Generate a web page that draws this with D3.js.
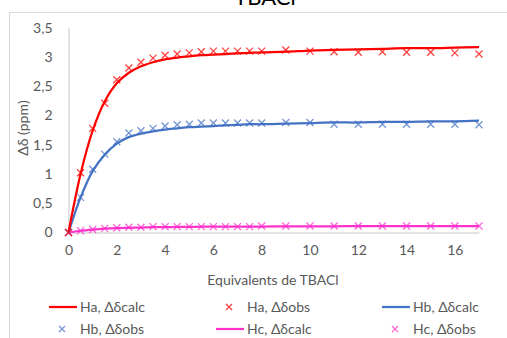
<!DOCTYPE html>
<html><head><meta charset="utf-8">
<script src="https://cdn.jsdelivr.net/npm/d3@7"></script>
<style>body{margin:0;background:#fff;overflow:hidden}svg{display:block}text{font-family:Lato,"Open Sans",sans-serif}</style>
</head><body>
<script>
const xVals = [0,0.5,1,1.5,2,2.5,3,3.5,4,4.5,5,5.5,6,6.5,7,7.5,8,9,10,11,12,13,14,15,16,17];
const haObs = [0,1.02,1.78,2.21,2.61,2.81,2.91,2.98,3.03,3.05,3.07,3.09,3.10,3.10,3.10,3.10,3.10,3.12,3.10,3.09,3.08,3.09,3.08,3.08,3.07,3.05];
const haCalc = [0,1.0,1.74,2.24,2.55,2.73,2.84,2.91,2.96,2.99,3.01,3.03,3.04,3.05,3.06,3.07,3.08,3.09,3.11,3.12,3.13,3.14,3.15,3.15,3.16,3.17];
const hbObs = [0,0.60,1.08,1.34,1.55,1.70,1.74,1.78,1.82,1.84,1.85,1.87,1.87,1.87,1.87,1.87,1.87,1.88,1.88,1.85,1.85,1.85,1.85,1.85,1.85,1.84];
const hbCalc = [0,0.60,1.05,1.33,1.52,1.63,1.69,1.73,1.76,1.78,1.80,1.81,1.82,1.83,1.84,1.85,1.85,1.86,1.87,1.88,1.88,1.89,1.89,1.90,1.90,1.91];
const hcObs = [0,0.03,0.05,0.07,0.08,0.09,0.09,0.10,0.10,0.10,0.10,0.10,0.10,0.10,0.10,0.10,0.11,0.11,0.11,0.11,0.11,0.11,0.11,0.11,0.11,0.11];
const hcCalc = [0,0.03,0.05,0.065,0.075,0.08,0.085,0.09,0.09,0.095,0.095,0.1,0.1,0.1,0.1,0.1,0.1,0.105,0.105,0.105,0.11,0.11,0.11,0.11,0.11,0.11];
const xTicks = [0,2,4,6,8,10,12,14,16];
const yTicks = [0,0.5,1,1.5,2,2.5,3,3.5];
const titleText = "TBACl";
const xTitle = "Equivalents de TBACl";
const yTitle = "Δδ (ppm)";
const seriesNames = ["Ha, Δδcalc","Ha, Δδobs","Hb, Δδcalc","Hb, Δδobs","Hc, Δδcalc","Hc, Δδobs"];

const W=507,H=338;
const colors={ha:"#FF0000",hb:"#4472C4",hc:"#FF33CC"};
const svg=d3.select("body").append("svg").attr("width",W).attr("height",H);
svg.append("rect").attr("x",9.5).attr("y",12.5).attr("width",600).attr("height",400).attr("fill","#fff").attr("stroke","#D9D9D9");
svg.append("text").attr("x",265).attr("y",5).attr("text-anchor","middle").attr("font-size",22).attr("fill","#000").text(titleText);

const x=d3.scaleLinear().domain([0,17]).range([68.5,479]);
const y=d3.scaleLinear().domain([0,3.5]).range([232.5,27.7]);
const grey="#595959";

// axes
const xa=svg.append("g").attr("transform",`translate(0,${y(0)})`).call(d3.axisBottom(x).tickValues(xTicks).tickSize(0).tickPadding(13).tickFormat(d=>d));
xa.select(".domain").attr("stroke","#D9D9D9").attr("stroke-width",1.5);
xa.selectAll("text").attr("font-size",14).attr("fill",grey).attr("font-family","Lato");
const ya=svg.append("g").attr("transform",`translate(${x(0)},0)`).call(d3.axisLeft(y).tickValues(yTicks).tickSize(0).tickPadding(16).tickFormat(d=>String(d).replace(".",",")));
ya.select(".domain").attr("stroke","#D9D9D9").attr("stroke-width",1.5);
ya.selectAll("text").attr("font-size",14).attr("fill",grey).attr("font-family","Lato");

svg.append("text").attr("x",273).attr("y",285).attr("text-anchor","middle").attr("font-size",14).attr("fill",grey).text(xTitle);
svg.append("text").attr("transform","translate(28,128) rotate(-90)").attr("text-anchor","middle").attr("font-size",14).attr("fill",grey).text(yTitle);

const line=d3.line().x((d,i)=>x(xVals[i])).y(d=>y(d)).curve(d3.curveCatmullRom.alpha(0.5));
function drawLine(data,c){svg.append("path").datum(data).attr("d",line).attr("fill","none").attr("stroke",c).attr("stroke-width",2.25);}
function cross(g,cx,cy,c,s){g.append("path").attr("d",`M${cx-s},${cy-s}L${cx+s},${cy+s}M${cx-s},${cy+s}L${cx+s},${cy-s}`).attr("stroke",c).attr("stroke-width",1.3).attr("stroke-opacity",0.75).attr("fill","none");}
function drawPts(data,c){const g=svg.append("g");data.forEach((d,i)=>cross(g,x(xVals[i]),y(d),c,3.5));}

drawLine(hcCalc,colors.hc);
drawLine(hbCalc,colors.hb);
drawLine(haCalc,colors.ha);
drawPts(hcObs,colors.hc);
drawPts(hbObs,colors.hb);
drawPts(haObs,colors.ha);

// legend
const legend=[
 {name:seriesNames[0],c:colors.ha,t:"line",col:0,row:0},
 {name:seriesNames[1],c:colors.ha,t:"pt",col:1,row:0},
 {name:seriesNames[2],c:colors.hb,t:"line",col:2,row:0},
 {name:seriesNames[3],c:colors.hb,t:"pt",col:0,row:1},
 {name:seriesNames[4],c:colors.hc,t:"line",col:1,row:1},
 {name:seriesNames[5],c:colors.hc,t:"pt",col:2,row:1}];
const colX=[80,247,413], rowY=[307,329];
legend.forEach(l=>{
  const tx=colX[l.col], ty=rowY[l.row];
  if(l.t==="line") svg.append("line").attr("x1",tx-31).attr("x2",tx-3).attr("y1",ty).attr("y2",ty).attr("stroke",l.c).attr("stroke-width",2.25);
  else cross(svg,tx-18,ty,l.c,3);
  svg.append("text").attr("x",tx).attr("y",ty+5).attr("font-size",14).attr("fill",grey).text(l.name);
});
</script>
</body></html>
